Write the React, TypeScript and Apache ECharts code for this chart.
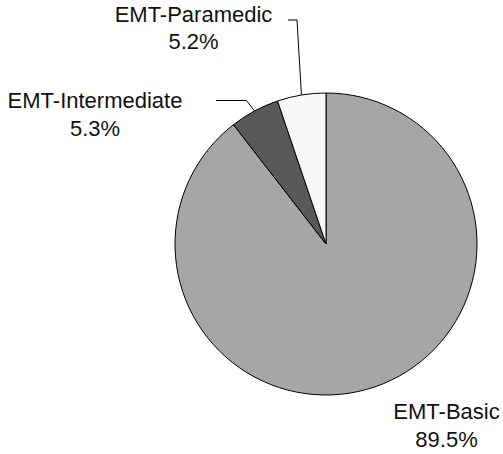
import React, { useEffect, useRef } from "react";
import * as echarts from "echarts";

const categories = ["EMT-Basic", "EMT-Intermediate", "EMT-Paramedic"];
const values = [89.5, 5.3, 5.2];
const colors = ["#a6a6a6", "#595959", "#f8f8f8"];

// label placement (block centers) and leader line knee/end points
const labelPos: [number, number][] = [
  [446.5, 425.5],
  [95, 114.5],
  [193.5, 28],
];
const leaderKnee: ([number, number] | null)[] = [null, [246.5, 100.5], [297, 20]];
const leaderEnd: ([number, number] | null)[] = [null, [216, 100.5], [288, 20]];

const CX = 326;
const CY = 244;
const R = 151;

export default function App() {
  const ref = useRef<HTMLDivElement>(null);
  useEffect(() => {
    if (!ref.current) return;
    const chart = echarts.init(ref.current, null, { renderer: "svg" });
    const total = values.reduce((a, b) => a + b, 0);
    const edgePoint = (i: number): [number, number] => {
      let cum = 0;
      for (let k = 0; k < i; k++) cum += values[k];
      const frac = (cum + values[i] / 2) / total;
      const t = frac * Math.PI * 2;
      return [CX + R * Math.sin(t), CY - R * Math.cos(t)];
    };
    chart.setOption({
      animation: false,
      backgroundColor: "#ffffff",
      series: [
        {
          type: "pie",
          center: [CX, CY],
          radius: R,
          startAngle: 90,
          clockwise: true,
          avoidLabelOverlap: false,
          itemStyle: { borderColor: "#000", borderWidth: 1 },
          label: {
            show: true,
            position: "outside",
            formatter: (p: any) => `${p.name}\n${Number(p.value).toFixed(1)}%`,
            fontFamily: "Liberation Sans, Arial, sans-serif",
            fontSize: 22,
            lineHeight: 27.5,
            color: "#111",
            align: "center",
          },
          labelLine: {
            show: true,
            length: 10,
            length2: 10,
            lineStyle: { color: "#000", width: 1 },
          },
          labelLayout: (params: any) => {
            const i = params.dataIndex;
            const out: any = {
              x: labelPos[i][0],
              y: labelPos[i][1],
              align: "center",
              verticalAlign: "middle",
            };
            if (leaderKnee[i] && leaderEnd[i]) {
              out.labelLinePoints = [edgePoint(i), leaderKnee[i], leaderEnd[i]];
            }
            return out;
          },
          emphasis: { disabled: true },
          data: categories.map((name, i) => ({
            name,
            value: values[i],
            itemStyle: { color: colors[i] },
            labelLine: { show: i !== 0 },
          })),
        },
      ],
    });
    return () => chart.dispose();
  }, []);
  return (
    <div
      ref={ref}
      style={{ position: "fixed", left: 0, top: 0, width: 503, height: 454 }}
    />
  );
}
